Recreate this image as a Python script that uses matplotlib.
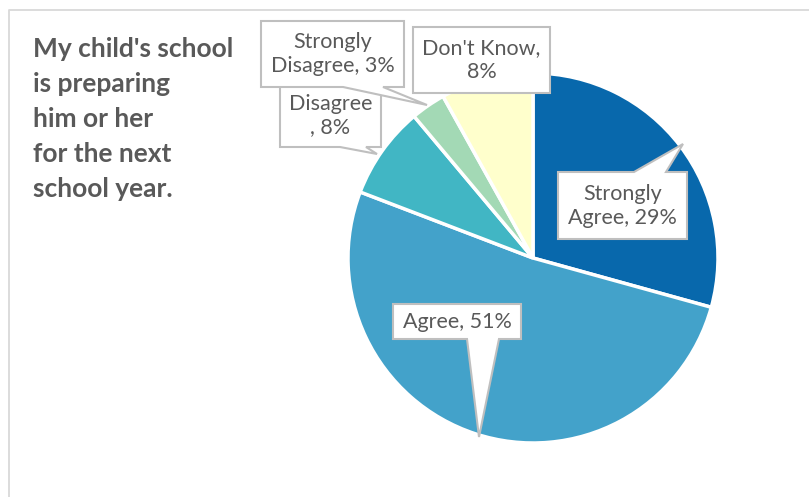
import matplotlib.pyplot as plt
from matplotlib.patches import Polygon

# survey answers
labels = ['Strongly Agree', 'Agree', 'Disagree', 'Strongly Disagree', "Don't Know"]
values = [29, 51, 8, 3, 8]
colors = ['#0868ac', '#43a2ca', '#41b6c4', '#a3d9b5', '#ffffcc']
label_texts = ['Strongly\nAgree, 29%', 'Agree, 51%', 'Disagree\n, 8%',
               'Strongly\nDisagree, 3%', "Don't Know,\n8%"]
title = "My child's school\nis preparing\nhim or her\nfor the next\nschool year."

W, H = 809, 497
fig = plt.figure(figsize=(W / 100, H / 100), dpi=100)
ax = fig.add_axes([0, 0, 1, 1])


def py(y):
    # pixel row -> data y
    return H - y


ax.pie(values, colors=colors, startangle=90, counterclock=False,
       center=(533, py(258)), radius=185,
       wedgeprops=dict(edgecolor='white', linewidth=2.5))
ax.set_xlim(0, W)
ax.set_ylim(0, H)
ax.set_aspect('equal')
ax.axis('off')

# outer chart frame (cropped at right / bottom)
ax.plot([9, 9, W], [py(H), py(10), py(10)], color='#d9d9d9', lw=1.3)

ax.text(33, py(37), title, fontsize=19, fontweight='bold', color='#595959',
        family='Lato', va='top', ha='left', linespacing=1.55)


def callout(box, text, edge=None, base=None, tip=None, z=3):
    x0, y0, x1, y1 = box
    pts = [(x0, y0)]
    if edge == 'top':
        pts += [(base[0], y0), tip, (base[1], y0)]
    pts += [(x1, y0), (x1, y1)]
    if edge == 'bottom':
        pts += [(base[1], y1), tip, (base[0], y1)]
    pts += [(x0, y1)]
    pts = [(x, py(y)) for x, y in pts]
    ax.add_patch(Polygon(pts, closed=True, facecolor='white',
                         edgecolor='#bfbfbf', lw=1.5, zorder=z))
    ax.text((x0 + x1) / 2, py((y0 + y1) / 2), text, ha='center', va='center',
            fontsize=15.5, color='#595959', family='Lato', zorder=z + 0.5,
            linespacing=1.25)


callout((558, 172, 687, 239), label_texts[0], 'top', (634, 666), (683, 144))
callout((393, 304, 521, 339), label_texts[1], 'bottom', (467, 499), (479, 437))
callout((280, 84, 381, 147), label_texts[2], 'bottom', (340, 366), (377, 154))
callout((261, 21, 404, 87), label_texts[3], 'bottom', (343, 383), (427, 105), z=5)
callout((413, 27, 550, 93), label_texts[4], z=5)

fig.savefig('out.png', dpi=100)
